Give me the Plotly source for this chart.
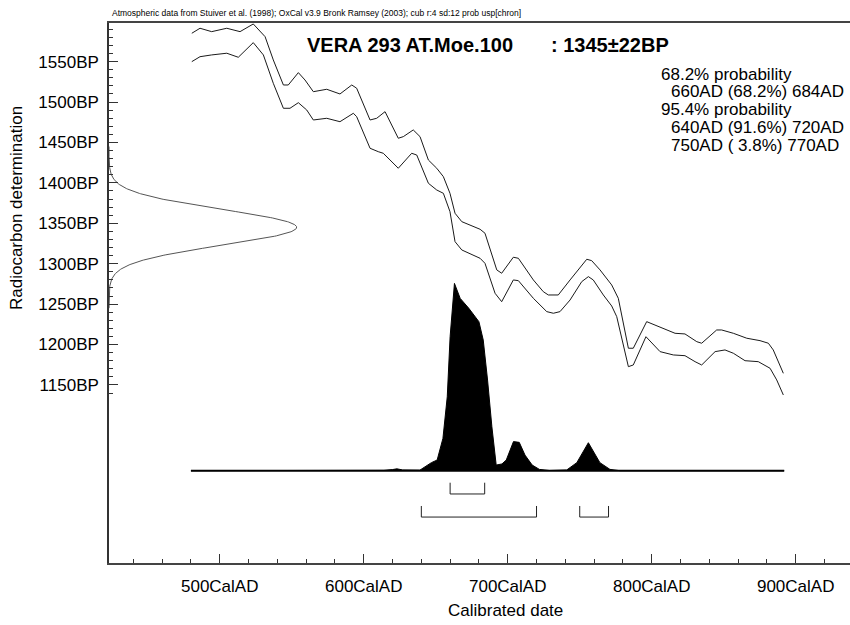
import numpy as np
import plotly.graph_objects as go

# ---------------- data ----------------
sample_name = "VERA 293 AT.Moe.100"
c14_age = 1345
c14_err = 22

# calibration curve, upper edge (cal AD, BP)
cal_upper_years = [480.6, 486.3, 494.4, 504.9, 514.1, 523.3, 531.5, 537.2, 544.2, 547.6, 554.6, 559.2, 565.0,
                   574.3, 583.5, 591.7, 595.1, 604.4, 609.0, 614.8, 624.0, 627.5, 634.4, 639.1, 644.9, 650.7,
                   655.3, 659.9, 663.4, 668.1, 680.8, 684.2, 692.4, 695.8, 703.9, 707.4, 717.8, 724.7, 728.2,
                   735.1, 743.3, 754.9, 758.3, 764.1, 772.2, 776.8, 783.8, 787.2, 796.5, 803.5, 816.2, 823.1,
                   831.3, 834.7, 845.1, 848.6, 856.7, 866.0, 875.2, 881.0, 884.4, 891.4]
cal_upper_bp = [1585.1, 1591.3, 1587.1, 1591.3, 1587.1, 1596.6, 1580.9, 1552.1, 1521.1, 1521.1, 1536.4, 1527.3,
                1512.8, 1515.8, 1510.0, 1521.1, 1517.1, 1477.8, 1479.9, 1488.1, 1455.2, 1457.2, 1465.5, 1457.2,
                1428.3, 1418.1, 1407.7, 1387.1, 1362.4, 1352.0, 1342.6, 1337.7, 1292.3, 1288.2, 1308.0, 1306.7,
                1279.9, 1265.4, 1261.3, 1261.3, 1279.9, 1305.5, 1303.8, 1292.3, 1273.7, 1257.2, 1195.4, 1195.4,
                1228.3, 1223.0, 1213.9, 1213.1, 1203.5, 1201.6, 1218.0, 1218.0, 1213.9, 1207.8, 1204.8, 1201.6,
                1193.3, 1164.4]

# calibration curve, lower edge (cal AD, BP)
cal_lower_years = [480.6, 486.3, 494.4, 504.9, 512.9, 523.3, 530.3, 537.2, 544.2, 548.8, 554.6, 560.4, 565.0,
                   574.3, 583.5, 592.8, 595.1, 604.4, 610.1, 613.6, 624.0, 633.3, 636.8, 644.9, 650.7, 655.3,
                   659.9, 663.4, 668.1, 680.8, 684.2, 691.2, 695.8, 703.9, 707.4, 717.8, 727.1, 731.7, 736.3,
                   743.3, 751.4, 756.0, 759.4, 766.4, 772.2, 775.7, 783.8, 787.2, 796.0, 800.0, 805.8, 815.0,
                   823.1, 830.1, 834.7, 844.0, 850.9, 856.7, 864.8, 874.0, 882.2, 886.8, 891.4]
cal_lower_bp = [1550.0, 1556.1, 1558.3, 1560.4, 1555.4, 1573.5, 1558.3, 1523.2, 1492.3, 1492.3, 1499.2, 1490.2,
                1477.8, 1479.9, 1475.7, 1486.1, 1481.9, 1442.8, 1438.6, 1436.6, 1418.1, 1436.6, 1434.5, 1399.5,
                1391.2, 1387.1, 1364.4, 1327.3, 1317.0, 1306.7, 1300.5, 1263.4, 1253.0, 1279.9, 1279.0, 1257.2,
                1240.7, 1238.7, 1240.7, 1255.1, 1277.8, 1284.0, 1279.9, 1261.3, 1247.7, 1234.5, 1172.6, 1174.7,
                1209.7, 1201.6, 1191.2, 1187.1, 1186.2, 1178.8, 1174.7, 1191.2, 1193.3, 1189.2, 1180.0, 1178.8,
                1170.6, 1156.2, 1137.6]

# calibrated probability distribution (relative)
dist_years = [480, 600, 614, 620, 623, 627, 634, 639, 647, 651, 655, 658, 660, 663, 667, 673, 680, 683, 686,
              689, 692, 696, 699, 704, 708, 712, 717, 722, 729, 741, 748, 756, 764, 771, 778, 892]
dist_prob = [0, 0, 0.002, 0.006, 0.010, 0.004, 0.002, 0.003, 0.043, 0.057, 0.172, 0.394, 0.714, 0.998, 0.918,
             0.865, 0.794, 0.696, 0.483, 0.234, 0.030, 0.036, 0.057, 0.155, 0.151, 0.083, 0.030, 0.007, 0.001,
             0.004, 0.043, 0.149, 0.043, 0.007, 0, 0]

# highest probability ranges
ranges_68 = [(660, 684)]
ranges_95 = [(640, 720), (750, 770)]
summary_lines = ["68.2% probability", "660AD (68.2%) 684AD", "95.4% probability",
                 "640AD (91.6%) 720AD", "750AD ( 3.8%) 770AD"]

x_major = [500, 600, 700, 800, 900]
x_labels = ["500CalAD", "600CalAD", "700CalAD", "800CalAD", "900CalAD"]
y_major = [1150, 1200, 1250, 1300, 1350, 1400, 1450, 1500, 1550]
y_labels = ["1150BP", "1200BP", "1250BP", "1300BP", "1350BP", "1400BP", "1450BP", "1500BP", "1550BP"]

header = ("Atmospheric data from Stuiver et al. (1998); OxCal v3.9 Bronk Ramsey (2003); "
          "cub r:4 sd:12 prob usp[chron]")

# ---------------- layout geometry ----------------
W, H = 850, 625
ML, MR, MT, MB = 109, 0, 23, 62
PW, PH = W - ML - MR, H - MT - MB
FONT = "Liberation Sans, Arial, sans-serif"


def px(xp):
    return (xp - ML) / PW


def py(yp):
    return (H - MB - yp) / PH


fig = go.Figure()

# radiocarbon determination (normal curve on the BP axis)
bp_g = np.arange(c14_age - 100, c14_age + 100.5, 0.5)
amp_g = np.exp(-0.5 * ((bp_g - c14_age) / c14_err) ** 2)
fig.add_trace(go.Scatter(x=amp_g, y=bp_g, xaxis="x2", yaxis="y", mode="lines",
                         line=dict(color="#555555", width=1), hoverinfo="skip"))

# calibration curve
for xs, ys in [(cal_upper_years, cal_upper_bp), (cal_lower_years, cal_lower_bp)]:
    fig.add_trace(go.Scatter(x=xs, y=ys, xaxis="x", yaxis="y", mode="lines",
                             line=dict(color="#1a1a1a", width=1), hoverinfo="skip"))

# calibrated distribution
fig.add_trace(go.Scatter(x=dist_years, y=dist_prob, xaxis="x", yaxis="y2", mode="lines",
                         fill="tozeroy", fillcolor="black", line=dict(color="black", width=1),
                         hoverinfo="skip"))
fig.add_trace(go.Scatter(x=[dist_years[0], dist_years[-1]], y=[0, 0], xaxis="x", yaxis="y2",
                         mode="lines", line=dict(color="black", width=2), hoverinfo="skip"))

# range brackets
for rngs, top, bot in [(ranges_68, -0.064, -0.124), (ranges_95, -0.188, -0.247)]:
    for a, b in rngs:
        fig.add_trace(go.Scatter(x=[a, a, b, b], y=[top, bot, bot, top], xaxis="x", yaxis="y2",
                                 mode="lines", line=dict(color="#222222", width=1), hoverinfo="skip"))

x_minor = [v for v in range(440, 940, 20) if v not in x_major]
y_minor = [v for v in range(1140, 1600, 10) if v not in y_major]

tickfont = dict(family=FONT, size=17, color="black")
fig.update_layout(
    width=W, height=H, showlegend=False,
    paper_bgcolor="white", plot_bgcolor="white",
    margin=dict(l=ML, r=MR, t=MT, b=MB, pad=0),
    xaxis=dict(range=[423.1, 937.7], tickmode="array", tickvals=x_major, ticktext=x_labels,
               ticks="inside", ticklen=9, tickwidth=1, tickcolor="#333333",
               showline=True, linecolor="#444444", linewidth=1.5, mirror=True,
               showgrid=False, zeroline=False, tickfont=tickfont, ticklabelstandoff=7,
               minor=dict(tickmode="array", tickvals=x_minor, ticks="inside", ticklen=4,
                          tickcolor="#333333", showgrid=False)),
    yaxis=dict(range=[929.7, 1597.8], tickmode="array", tickvals=y_major, ticktext=y_labels,
               ticks="inside", ticklen=9, tickwidth=1, tickcolor="#333333",
               showline=True, linecolor="#333333", linewidth=1.5,
               showgrid=False, zeroline=False, tickfont=tickfont, ticklabelstandoff=5,
               minor=dict(tickmode="array", tickvals=y_minor, ticks="inside", ticklen=4,
                          tickcolor="#333333", showgrid=False)),
    xaxis2=dict(overlaying="x", anchor="y", range=[0, PW / 187.7], visible=False),
    yaxis2=dict(overlaying="y", anchor="x", range=[-92.3 / 187.7, (PH - 92.3) / 187.7], visible=False),
)

ann = []
ann.append(dict(text=header, x=px(110), y=py(13), xanchor="left", yanchor="middle",
                font=dict(family=FONT, size=8.5, color="black")))
ann.append(dict(text="<b>" + sample_name + "</b>", x=px(305), y=py(45.5), xanchor="left", yanchor="middle",
                font=dict(family=FONT, size=20, color="black")))
ann.append(dict(text="<b>: %d±%dBP</b>" % (c14_age, c14_err), x=px(549), y=py(45.5), xanchor="left",
                yanchor="middle", font=dict(family=FONT, size=20, color="black")))
line_x = [659, 669, 659, 669, 669]
line_y = [74, 91.7, 109.3, 127.3, 145]
for t, lx, ly in zip(summary_lines, line_x, line_y):
    ann.append(dict(text=t, x=px(lx), y=py(ly), xanchor="left", yanchor="middle",
                    font=dict(family=FONT, size=17, color="black")))
ann.append(dict(text="Radiocarbon determination", x=px(17), y=py(208), textangle=-90,
                xanchor="center", yanchor="middle", font=dict(family=FONT, size=17, color="black")))
ann.append(dict(text="Calibrated date", x=px(506), y=py(610), xanchor="center", yanchor="middle",
                font=dict(family=FONT, size=17, color="black")))
for a in ann:
    a.update(xref="paper", yref="paper", showarrow=False)
fig.update_layout(annotations=ann)

fig.write_html("out.html", config={"displayModeBar": False},
               post_script="document.body.style.margin='0';document.body.style.overflow='hidden';")
